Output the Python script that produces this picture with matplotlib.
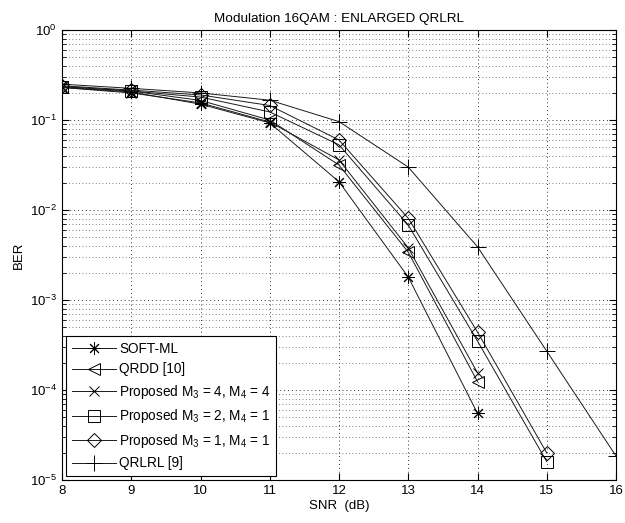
import matplotlib
matplotlib.use('Agg')
import matplotlib.pyplot as plt
import numpy as np

plt.rcParams['font.family'] = ['Liberation Sans', 'DejaVu Sans']
plt.rcParams['mathtext.fontset'] = 'custom'
plt.rcParams['mathtext.rm'] = 'Liberation Sans'
plt.rcParams['mathtext.it'] = 'Liberation Sans'

# data
snr = [8, 9, 10, 11, 12, 13, 14, 15, 16]
soft_ml = [0.23, 0.205, 0.15, 0.093, 0.0206, 0.0018, 5.5e-5]
qrdd = [0.235, 0.21, 0.165, 0.1, 0.0316, 0.0034, 1.24e-4]
prop_44 = [0.23, 0.2, 0.155, 0.095, 0.036, 0.0038, 1.55e-4]
prop_21 = [0.235, 0.21, 0.18, 0.123, 0.053, 0.0068, 3.5e-4, 1.6e-5]
prop_11 = [0.24, 0.215, 0.19, 0.145, 0.06, 0.0081, 4.4e-4, 2.0e-5]
qrlrl = [0.25, 0.225, 0.2, 0.166, 0.096, 0.030, 0.0039, 2.7e-4, 1.85e-5]

labels = ['SOFT-ML', 'QRDD [10]',
          'Proposed M$_3$ = 4, M$_4$ = 4',
          'Proposed M$_3$ = 2, M$_4$ = 1',
          'Proposed M$_3$ = 1, M$_4$ = 1',
          'QRLRL [9]']
series = [soft_ml, qrdd, prop_44, prop_21, prop_11, qrlrl]
markers = [(8, 2, 0), '<', 'x', 's', 'D', '+']
msizes = [9, 9, 7, 8, 7, 12]

fig = plt.figure(figsize=(6.25, 5.23), dpi=100)
ax = fig.add_axes([0.0992, 0.0822, 0.8864, 0.8604])

for ys, lab, m, ms in zip(series, labels, markers, msizes):
    ax.semilogy(snr[:len(ys)], ys, color='#1a1a1a', linewidth=0.7, marker=m,
                markersize=ms, markerfacecolor='none', markeredgecolor='black',
                markeredgewidth=0.7, label=lab)

ax.set_xlim(8, 16)
ax.set_ylim(1e-5, 1)
ax.set_xticks(snr)
ax.grid(True, which='major', linestyle=(0, (1, 3)), color='#333333', linewidth=0.7)
ax.grid(True, which='minor', axis='y', linestyle=(0, (1, 3)), color='#555555', linewidth=0.6)
ax.tick_params(which='both', direction='in', top=True, right=True, labelsize=9.5)
ax.tick_params(which='major', length=5)
ax.tick_params(which='minor', length=3)
for s in ax.spines.values():
    s.set_linewidth(0.8)

ax.set_title('Modulation 16QAM : ENLARGED QRLRL', fontsize=9.7, pad=6)
ax.set_xlabel('SNR  (dB)', fontsize=9.5, labelpad=2)
ax.set_ylabel('BER', fontsize=9.5, labelpad=4)

leg = ax.legend(loc='lower left', fontsize=9.8, fancybox=False, framealpha=1,
                edgecolor='black', borderaxespad=0.3, handlelength=3.3,
                labelspacing=0.48, borderpad=0.4, handletextpad=0.2)
leg.get_frame().set_linewidth(0.8)

plt.savefig('out.png', dpi=100)
plt.close()
